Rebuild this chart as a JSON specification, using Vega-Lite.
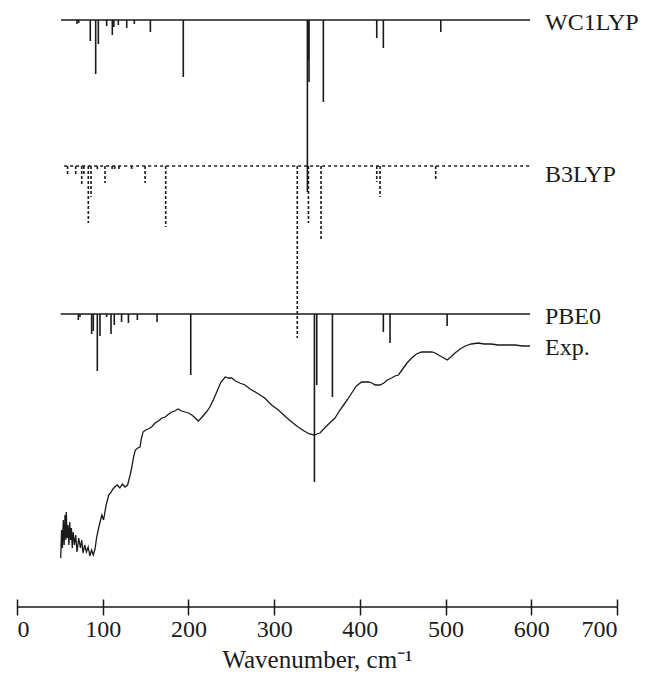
{
  "$schema": "https://vega.github.io/schema/vega-lite/v6.json",
  "width": 600,
  "height": 602,
  "padding": {"left": 16, "top": 5, "right": 5, "bottom": 0},
  "background": "white",
  "config": {"view": {"stroke": null}, "font": "Liberation Serif"},
  "datasets": {
    "sticks": [
      {"s": "WC1LYP", "x": 70, "y0": 585, "y1": 581},
      {"s": "WC1LYP", "x": 72, "y0": 585, "y1": 582},
      {"s": "WC1LYP", "x": 85.5, "y0": 585, "y1": 564},
      {"s": "WC1LYP", "x": 91.8, "y0": 585, "y1": 531},
      {"s": "WC1LYP", "x": 94.9, "y0": 585, "y1": 561},
      {"s": "WC1LYP", "x": 104.6, "y0": 585, "y1": 579},
      {"s": "WC1LYP", "x": 111.2, "y0": 585, "y1": 570},
      {"s": "WC1LYP", "x": 113, "y0": 585, "y1": 578},
      {"s": "WC1LYP", "x": 118.2, "y0": 585, "y1": 580},
      {"s": "WC1LYP", "x": 128, "y0": 585, "y1": 577},
      {"s": "WC1LYP", "x": 136.9, "y0": 585, "y1": 581},
      {"s": "WC1LYP", "x": 155.6, "y0": 585, "y1": 573},
      {"s": "WC1LYP", "x": 194, "y0": 585, "y1": 528},
      {"s": "WC1LYP", "x": 338.8, "y0": 585, "y1": 413},
      {"s": "WC1LYP", "x": 339.8, "y0": 585, "y1": 545},
      {"s": "WC1LYP", "x": 340.7, "y0": 585, "y1": 523},
      {"s": "WC1LYP", "x": 357.4, "y0": 585, "y1": 503},
      {"s": "WC1LYP", "x": 419.7, "y0": 585, "y1": 567},
      {"s": "WC1LYP", "x": 427.4, "y0": 585, "y1": 557},
      {"s": "WC1LYP", "x": 494.4, "y0": 585, "y1": 573},
      {"s": "PBE0", "x": 71.6, "y0": 291, "y1": 285},
      {"s": "PBE0", "x": 73.5, "y0": 291, "y1": 288},
      {"s": "PBE0", "x": 87.1, "y0": 291, "y1": 271},
      {"s": "PBE0", "x": 89, "y0": 291, "y1": 274},
      {"s": "PBE0", "x": 93.7, "y0": 291, "y1": 234},
      {"s": "PBE0", "x": 96.8, "y0": 291, "y1": 269},
      {"s": "PBE0", "x": 104.6, "y0": 291, "y1": 288},
      {"s": "PBE0", "x": 109.7, "y0": 291, "y1": 271},
      {"s": "PBE0", "x": 113.5, "y0": 291, "y1": 280},
      {"s": "PBE0", "x": 122, "y0": 291, "y1": 283},
      {"s": "PBE0", "x": 130, "y0": 291, "y1": 282},
      {"s": "PBE0", "x": 140.4, "y0": 291, "y1": 285},
      {"s": "PBE0", "x": 163.4, "y0": 291, "y1": 283},
      {"s": "PBE0", "x": 202.7, "y0": 291, "y1": 230},
      {"s": "PBE0", "x": 347, "y0": 291, "y1": 123},
      {"s": "PBE0", "x": 349.7, "y0": 291, "y1": 220},
      {"s": "PBE0", "x": 368, "y0": 291, "y1": 208},
      {"s": "PBE0", "x": 427.4, "y0": 291, "y1": 273},
      {"s": "PBE0", "x": 435.2, "y0": 291, "y1": 262},
      {"s": "PBE0", "x": 501.8, "y0": 291, "y1": 279}
    ],
    "dashed": [
      {"s": "B3LYP", "x": 59, "y0": 439, "y1": 430},
      {"s": "B3LYP", "x": 68.5, "y0": 439, "y1": 430},
      {"s": "B3LYP", "x": 75.5, "y0": 439, "y1": 419},
      {"s": "B3LYP", "x": 78, "y0": 439, "y1": 430},
      {"s": "B3LYP", "x": 83.2, "y0": 439, "y1": 382},
      {"s": "B3LYP", "x": 86.4, "y0": 439, "y1": 408},
      {"s": "B3LYP", "x": 93.7, "y0": 439, "y1": 435},
      {"s": "B3LYP", "x": 102.7, "y0": 439, "y1": 422},
      {"s": "B3LYP", "x": 111, "y0": 439, "y1": 435},
      {"s": "B3LYP", "x": 114, "y0": 439, "y1": 436},
      {"s": "B3LYP", "x": 119, "y0": 439, "y1": 434},
      {"s": "B3LYP", "x": 133.8, "y0": 439, "y1": 434},
      {"s": "B3LYP", "x": 149.4, "y0": 439, "y1": 422},
      {"s": "B3LYP", "x": 173.5, "y0": 439, "y1": 378},
      {"s": "B3LYP", "x": 327, "y0": 439, "y1": 267},
      {"s": "B3LYP", "x": 340, "y0": 439, "y1": 382},
      {"s": "B3LYP", "x": 354.7, "y0": 439, "y1": 365},
      {"s": "B3LYP", "x": 419.7, "y0": 439, "y1": 423},
      {"s": "B3LYP", "x": 423.6, "y0": 439, "y1": 408},
      {"s": "B3LYP", "x": 488.5, "y0": 439, "y1": 426}
    ],
    "baselines": [
      {"s": "WC1LYP", "x0": 51.3, "x1": 598.6, "y": 585, "dash": "solid"},
      {"s": "B3LYP", "x0": 55, "x1": 598.6, "y": 439, "dash": "dashed"},
      {"s": "PBE0", "x0": 51, "x1": 598.6, "y": 291, "dash": "solid"}
    ],
    "labels": [
      {"t": "WC1LYP", "x": 616, "y": 582},
      {"t": "B3LYP", "x": 616, "y": 430},
      {"t": "PBE0", "x": 616, "y": 288},
      {"t": "Exp.", "x": 616, "y": 257}
    ],
    "exp": [
      {"x": 51, "y": 47}, {"x": 52, "y": 75}, {"x": 53, "y": 57}, {"x": 54, "y": 85},
      {"x": 55, "y": 60}, {"x": 56, "y": 90}, {"x": 57, "y": 65}, {"x": 57.5, "y": 93},
      {"x": 58.5, "y": 67}, {"x": 59.5, "y": 80}, {"x": 60.5, "y": 60}, {"x": 61.5, "y": 83},
      {"x": 62.5, "y": 65}, {"x": 63.5, "y": 77}, {"x": 64.5, "y": 57}, {"x": 65.5, "y": 73},
      {"x": 67, "y": 60}, {"x": 68.5, "y": 70}, {"x": 70, "y": 53}, {"x": 72, "y": 67},
      {"x": 74, "y": 57}, {"x": 75.5, "y": 65}, {"x": 77, "y": 52}, {"x": 79, "y": 60},
      {"x": 81, "y": 53}, {"x": 83, "y": 58}, {"x": 85, "y": 49}, {"x": 87, "y": 55},
      {"x": 89, "y": 50}, {"x": 91, "y": 56}, {"x": 93, "y": 68}, {"x": 96, "y": 80},
      {"x": 99, "y": 90}, {"x": 101, "y": 85}, {"x": 104, "y": 100}, {"x": 107, "y": 110},
      {"x": 109, "y": 112}, {"x": 112, "y": 116}, {"x": 114, "y": 118}, {"x": 117, "y": 120},
      {"x": 120, "y": 117}, {"x": 123, "y": 121}, {"x": 126, "y": 118}, {"x": 129, "y": 120},
      {"x": 132, "y": 130}, {"x": 134, "y": 138}, {"x": 136, "y": 148}, {"x": 138, "y": 155},
      {"x": 141, "y": 157}, {"x": 143.5, "y": 158}, {"x": 145, "y": 166}, {"x": 147, "y": 173},
      {"x": 150, "y": 175}, {"x": 153, "y": 176}, {"x": 157, "y": 178}, {"x": 161, "y": 182},
      {"x": 165, "y": 184}, {"x": 169, "y": 187}, {"x": 173, "y": 188}, {"x": 177, "y": 191},
      {"x": 180.5, "y": 193}, {"x": 184, "y": 194}, {"x": 188, "y": 196}, {"x": 192, "y": 194},
      {"x": 196, "y": 193}, {"x": 200, "y": 192}, {"x": 204, "y": 190}, {"x": 208, "y": 187},
      {"x": 211.5, "y": 184}, {"x": 215, "y": 187}, {"x": 218, "y": 190}, {"x": 221, "y": 193},
      {"x": 225, "y": 198}, {"x": 229, "y": 205}, {"x": 234, "y": 215}, {"x": 238, "y": 223},
      {"x": 243, "y": 228}, {"x": 247, "y": 227}, {"x": 250.5, "y": 227}, {"x": 255, "y": 224},
      {"x": 260, "y": 222}, {"x": 266, "y": 220}, {"x": 272, "y": 216}, {"x": 280, "y": 212},
      {"x": 289, "y": 207}, {"x": 297, "y": 200}, {"x": 305, "y": 195}, {"x": 315, "y": 187},
      {"x": 322, "y": 182}, {"x": 328, "y": 178}, {"x": 335, "y": 174}, {"x": 341, "y": 171},
      {"x": 347, "y": 170}, {"x": 350, "y": 171}, {"x": 353.5, "y": 172}, {"x": 360, "y": 178},
      {"x": 366, "y": 183}, {"x": 371, "y": 187}, {"x": 376, "y": 194}, {"x": 381, "y": 200},
      {"x": 386, "y": 206}, {"x": 390.5, "y": 212}, {"x": 396, "y": 219}, {"x": 402, "y": 223},
      {"x": 406, "y": 223}, {"x": 410, "y": 223}, {"x": 414, "y": 222}, {"x": 418, "y": 220},
      {"x": 423.5, "y": 220}, {"x": 428, "y": 222}, {"x": 432, "y": 225}, {"x": 437, "y": 227},
      {"x": 441, "y": 229}, {"x": 445, "y": 230}, {"x": 450, "y": 236}, {"x": 455, "y": 242},
      {"x": 460.5, "y": 247}, {"x": 466, "y": 251}, {"x": 472, "y": 253}, {"x": 478, "y": 253},
      {"x": 484, "y": 253}, {"x": 488, "y": 252}, {"x": 491.6, "y": 250}, {"x": 496, "y": 248},
      {"x": 502, "y": 245}, {"x": 506, "y": 248}, {"x": 511, "y": 252}, {"x": 517, "y": 256},
      {"x": 523, "y": 259}, {"x": 530, "y": 261}, {"x": 538, "y": 262}, {"x": 545, "y": 261},
      {"x": 553, "y": 261}, {"x": 561.6, "y": 260}, {"x": 570, "y": 260}, {"x": 581, "y": 260},
      {"x": 590, "y": 259}, {"x": 598.6, "y": 259}
    ]
  },
  "layer": [
    {
      "data": {"name": "exp"},
      "mark": {"type": "line", "color": "#1a1a1a", "strokeWidth": 1.3},
      "encoding": {
        "x": {"field": "x", "type": "quantitative", "scale": {"domain": [0, 700], "nice": false},
          "axis": {"values": [0, 100, 200, 300, 400, 500, 600, 700], "title": "Wavenumber, cm⁻¹",
            "grid": false, "domain": false, "offset": -8, "tickColor": "#1a1a1a",
            "tickWidth": 1.5, "tickSize": 16, "labelFont": "Liberation Serif", "labelFontSize": 24,
            "labelColor": "#1a1a1a", "labelPadding": 2, "titleFont": "Liberation Serif", "titleFontSize": 25,
            "titleFontWeight": "normal", "titleColor": "#1a1a1a", "titlePadding": 6}},
        "y": {"field": "y", "type": "quantitative", "scale": {"domain": [-2, 600], "nice": false}, "axis": null}
      }
    },
    {
      "data": {"values": [{}]},
      "mark": {"type": "rule", "color": "#1a1a1a", "strokeWidth": 1.5},
      "encoding": {"y": {"datum": -2, "type": "quantitative"}}
    },
    {
      "data": {"name": "baselines"},
      "transform": [{"filter": "datum.dash == 'solid'"}],
      "mark": {"type": "rule", "color": "#1a1a1a", "strokeWidth": 1.6},
      "encoding": {
        "x": {"field": "x0", "type": "quantitative"},
        "x2": {"field": "x1"},
        "y": {"field": "y", "type": "quantitative"}
      }
    },
    {
      "data": {"name": "baselines"},
      "transform": [{"filter": "datum.dash == 'dashed'"}],
      "mark": {"type": "rule", "color": "#1a1a1a", "strokeWidth": 1.6, "strokeDash": [3, 3]},
      "encoding": {
        "x": {"field": "x0", "type": "quantitative"},
        "x2": {"field": "x1"},
        "y": {"field": "y", "type": "quantitative"}
      }
    },
    {
      "data": {"name": "sticks"},
      "mark": {"type": "rule", "color": "#1a1a1a", "strokeWidth": 1.6},
      "encoding": {
        "x": {"field": "x", "type": "quantitative"},
        "y": {"field": "y0", "type": "quantitative"},
        "y2": {"field": "y1"}
      }
    },
    {
      "data": {"name": "dashed"},
      "mark": {"type": "rule", "color": "#1a1a1a", "strokeWidth": 1.6, "strokeDash": [3, 2]},
      "encoding": {
        "x": {"field": "x", "type": "quantitative"},
        "y": {"field": "y0", "type": "quantitative"},
        "y2": {"field": "y1"}
      }
    },
    {
      "data": {"name": "labels"},
      "mark": {"type": "text", "align": "left", "baseline": "middle", "font": "Liberation Serif", "fontSize": 24, "color": "#1a1a1a"},
      "encoding": {
        "x": {"field": "x", "type": "quantitative"},
        "y": {"field": "y", "type": "quantitative"},
        "text": {"field": "t"}
      }
    }
  ]
}
